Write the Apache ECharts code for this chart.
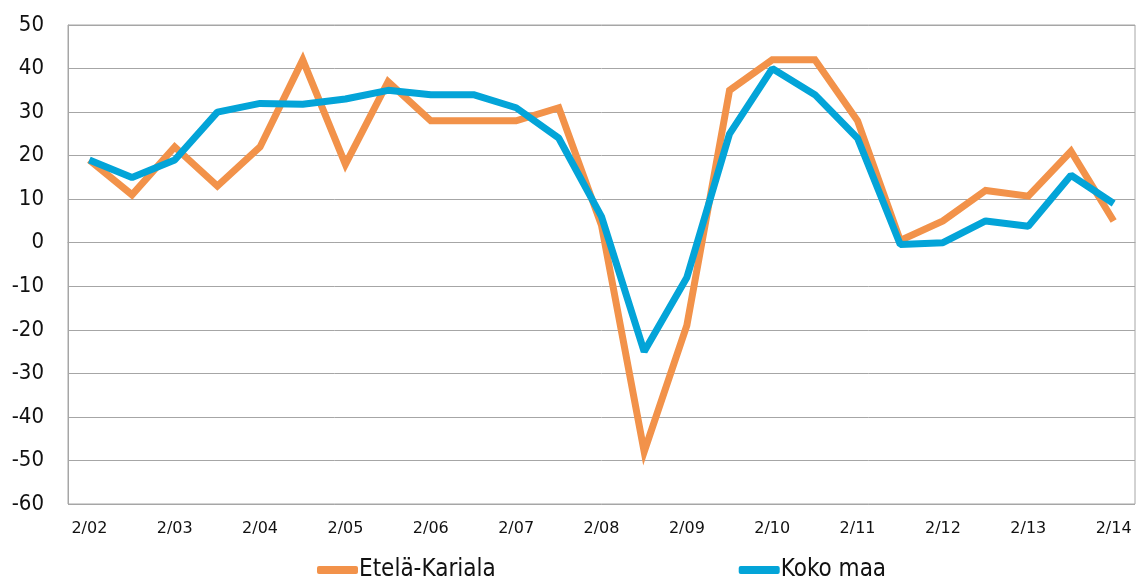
<!DOCTYPE html>
<html>
<head>
<meta charset="utf-8">
<script src="https://cdn.jsdelivr.net/npm/echarts@6/dist/echarts.min.js"></script>
<style>html,body{margin:0;padding:0;background:#fff}#c{width:1136px;height:576px}</style>
</head>
<body>
<div id="c"></div>
<script>
var categories = ["2/02","4/02","2/03","4/03","2/04","4/04","2/05","4/05","2/06","4/06","2/07","4/07","2/08","4/08","2/09","4/09","2/10","4/10","2/11","4/11","2/12","4/12","2/13","4/13","2/14"];
var seriesNames = ["Etelä-Karjala", "Koko maa"];
var eteläKarjala = [19, 11, 22, 13, 22, 42, 18, 37, 28, 28, 28, 31, 4, -48, -19, 35, 42, 42, 28, 0.5, 5, 12, 10.7, 21, 5];
var kokoMaa = [19, 15, 19, 30, 32, 31.8, 33, 35, 34, 34, 31, 24, 6, -25, -8, 25, 40, 34, 24, -0.4, 0, 5, 3.8, 15.5, 9];
var yTicks = {min: -60, max: 50, interval: 10};

var FONT_C = "'DejaVu Sans Condensed', 'DejaVu Sans', sans-serif";
var FONT = "'DejaVu Sans', sans-serif";
var chart = echarts.init(document.getElementById('c'), null, {renderer: 'canvas'});
chart.setOption({
  animation: false,
  grid: {left: 68, right: 1, top: 25, bottom: 72, show: true, borderColor: '#A6A6A6', borderWidth: 1},
  xAxis: {
    type: 'category', data: categories, boundaryGap: true,
    axisLine: {show: true, lineStyle: {color: '#A6A6A6'}},
    axisTick: {show: false},
    axisLabel: {interval: 1, color: '#111', fontSize: 16, fontFamily: FONT, margin: 17}
  },
  yAxis: {
    type: 'value', min: yTicks.min, max: yTicks.max, interval: yTicks.interval,
    axisLine: {show: true, lineStyle: {color: '#A6A6A6'}},
    axisTick: {show: false},
    splitLine: {lineStyle: {color: '#A6A6A6', width: 1}},
    axisLabel: {color: '#111', fontSize: 22, fontFamily: FONT_C, margin: 24}
  },
  legend: {
    left: 312, top: 553, itemWidth: 41, itemHeight: 8, itemGap: 243,
    icon: 'roundRect',
    textStyle: {fontSize: 24, color: '#111', fontFamily: FONT_C, padding: [0,0,0,-4]},
    data: seriesNames
  },
  series: [
    {name: seriesNames[0], type: 'line', data: eteläKarjala, symbol: 'none', color: '#F2924A',
     lineStyle: {width: 7, color: '#F2924A', join: 'miter'}},
    {name: seriesNames[1], type: 'line', data: kokoMaa, symbol: 'none', color: '#03A4D8',
     lineStyle: {width: 7, color: '#03A4D8'}}
  ]
});
</script>
</body>
</html>
